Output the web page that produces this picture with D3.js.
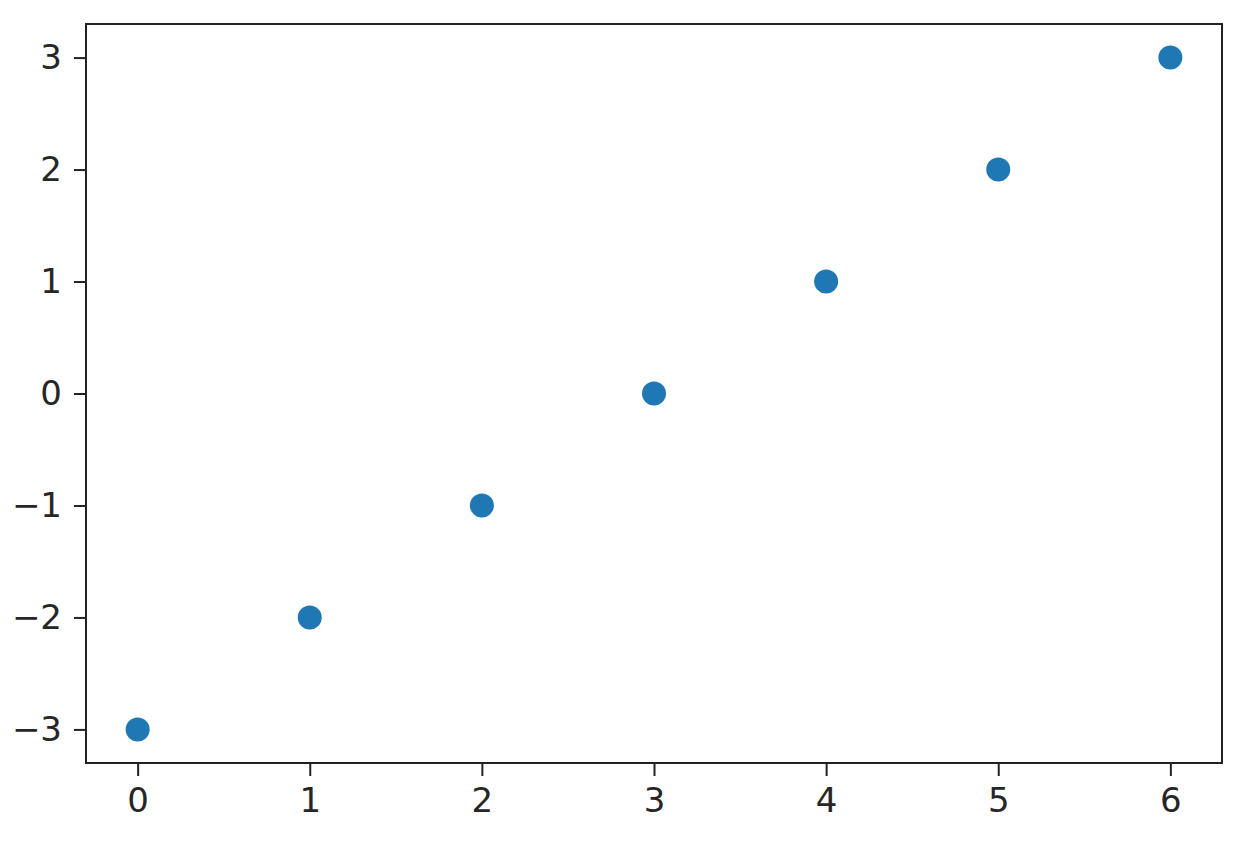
<!DOCTYPE html>
<html>
<head>
<meta charset="utf-8">
<script src="https://cdn.jsdelivr.net/npm/d3@7"></script>
<style>
	body { margin: 0; background: #fff; }
	svg text { font-family: "DejaVu Sans", sans-serif; fill: #262626; }
</style>
</head>
<body>
<svg id="scatter" width="1248" height="848"></svg>
<script>
// data
const xs = [0, 1, 2, 3, 4, 5, 6];
const ys = [-3, -2, -1, 0, 1, 2, 3];
const xTicks = [0, 1, 2, 3, 4, 5, 6];
const yTicks = [-3, -2, -1, 0, 1, 2, 3];

const box = { left: 86, right: 1222, top: 24, bottom: 763 };

const svg = d3.select("svg#scatter");

const scaleX = d3.scaleLinear().domain([-0.3, 6.3]).range([box.left, box.right]);
const scaleY = d3.scaleLinear().domain([-3.3, 3.3]).range([box.bottom, box.top]);

const fmt = (d) => (d < 0 ? "\u2212" + Math.abs(d) : String(d));

// points
svg.append("g")
	.selectAll("circle")
	.data(xs.map((x, i) => ({ x: x, y: ys[i] })))
	.join("circle")
	.attr("cx", (d) => scaleX(d.x))
	.attr("cy", (d) => scaleY(d.y))
	.attr("r", 12)
	.style("fill", "#1f77b4");

// axes
const xAxis = d3.axisBottom(scaleX).tickValues(xTicks).tickFormat(fmt).tickSize(13).tickPadding(12).tickSizeOuter(0);
const yAxis = d3.axisLeft(scaleY).tickValues(yTicks).tickFormat(fmt).tickSize(12).tickPadding(12).tickSizeOuter(0);

const gx = svg.append("g").attr("transform", `translate(0, ${box.bottom})`).call(xAxis);
const gy = svg.append("g").attr("transform", `translate(${box.left}, 0)`).call(yAxis);

[gx, gy].forEach((g) => {
	g.select(".domain").remove();
	g.selectAll(".tick line").style("stroke", "#222").style("stroke-width", 2);
	g.selectAll(".tick text").style("font-size", "34px").style("font-family", "DejaVu Sans, sans-serif");
});

// frame
svg.append("rect")
	.attr("x", box.left)
	.attr("y", box.top)
	.attr("width", box.right - box.left)
	.attr("height", box.bottom - box.top)
	.style("fill", "none")
	.style("stroke", "#222")
	.style("stroke-width", 2);
</script>
</body>
</html>
